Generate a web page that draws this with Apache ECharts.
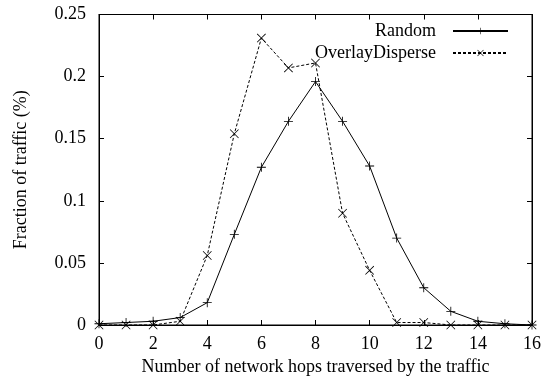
<!DOCTYPE html>
<html>
<head>
<meta charset="utf-8">
<script src="https://cdn.jsdelivr.net/npm/echarts@6/dist/echarts.min.js"></script>
<style>
  html, body { margin: 0; padding: 0; background: #fff; }
  #chart { width: 544px; height: 388px; }
</style>
</head>
<body>
<div id="chart"></div>
<script>
// Hop counts on the x axis
const hops = [0, 1, 2, 3, 4, 5, 6, 7, 8, 9, 10, 11, 12, 13, 14, 15, 16];
// Fraction of traffic per hop count
const randomValues = [0.001, 0.002, 0.003, 0.006, 0.018, 0.073, 0.127, 0.164, 0.196, 0.164, 0.128, 0.070, 0.030, 0.011, 0.003, 0.001, 0.000];
const overlayDisperseValues = [0.000, 0.000, 0.000, 0.003, 0.056, 0.154, 0.231, 0.207, 0.211, 0.090, 0.044, 0.002, 0.002, 0.000, 0.000, 0.000, 0.000];
const seriesNames = ['Random', 'OverlayDisperse'];
const xTicks = [0, 2, 4, 6, 8, 10, 12, 14, 16];
const yTicks = [0, 0.05, 0.1, 0.15, 0.2, 0.25];

const FONT = '"Liberation Serif", "DejaVu Serif", serif';
const FS = 18;
// Thin "+" and "x" point markers
const PLUS = 'path://M4.55,0 L5.45,0 L5.45,4.55 L10,4.55 L10,5.45 L5.45,5.45 L5.45,10 L4.55,10 L4.55,5.45 L0,5.45 L0,4.55 L4.55,4.55 Z';
const CROSS = 'path://M0,0.6 L0.6,0 L5,4.4 L9.4,0 L10,0.6 L5.6,5 L10,9.4 L9.4,10 L5,5.6 L0.6,10 L0,9.4 L4.4,5 Z';

const pairs = vals => hops.map((h, i) => [h, vals[i]]);

const chart = echarts.init(document.getElementById('chart'), null, { renderer: 'canvas' });

const tickCommon = { show: true, inside: true, length: 5, lineStyle: { color: '#000', width: 1 } };

chart.setOption({
  animation: false,
  backgroundColor: '#fff',
  grid: {
    left: 99, right: 10.5, top: 14.5, bottom: 63,
    show: true, borderColor: '#000', borderWidth: 1, backgroundColor: 'transparent'
  },
  legend: {
    orient: 'vertical',
    align: 'right',
    right: 35,
    top: 22,
    padding: 0,
    itemWidth: 55,
    itemHeight: 8,
    itemGap: 4,
    data: seriesNames,
    textStyle: { fontFamily: FONT, fontSize: FS, lineHeight: 18, color: '#000', padding: [0, 12, 0, 0] }
  },
  xAxis: [
    {
      type: 'value', min: 0, max: 16, interval: 2,
      name: 'Number of network hops traversed by the traffic',
      nameLocation: 'middle', nameGap: 33,
      nameTextStyle: { fontFamily: FONT, fontSize: FS, color: '#000' },
      axisLine: { show: true, onZero: false, lineStyle: { color: '#000', width: 1 } },
      axisTick: tickCommon,
      axisLabel: { fontFamily: FONT, fontSize: FS, color: '#000', margin: 10,
        formatter: v => xTicks.includes(v) ? String(v) : '' },
      splitLine: { show: false }
    },
    {
      type: 'value', position: 'top', min: 0, max: 16, interval: 2,
      axisLine: { show: true, onZero: false, lineStyle: { color: '#000' } },
      axisTick: tickCommon, axisLabel: { show: false }, splitLine: { show: false }
    }
  ],
  yAxis: [
    {
      type: 'value', min: 0, max: 0.25, interval: 0.05,
      name: 'Fraction of traffic (%)',
      nameLocation: 'middle', nameGap: 69,
      nameTextStyle: { fontFamily: FONT, fontSize: FS, color: '#000' },
      axisLine: { show: true, onZero: false, lineStyle: { color: '#000', width: 1 } },
      axisTick: tickCommon,
      axisLabel: { fontFamily: FONT, fontSize: FS, color: '#000', margin: 13,
        formatter: v => {
          const t = yTicks.find(y => Math.abs(y - v) < 1e-9);
          return t === undefined ? '' : String(t);
        } },
      splitLine: { show: false }
    },
    {
      type: 'value', position: 'right', min: 0, max: 0.25, interval: 0.05,
      axisLine: { show: true, onZero: false, lineStyle: { color: '#000' } },
      axisTick: tickCommon, axisLabel: { show: false }, splitLine: { show: false }
    }
  ],
  series: [
    {
      name: seriesNames[0], type: 'line', data: pairs(randomValues),
      symbol: PLUS, symbolSize: 9, showAllSymbol: true,
      lineStyle: { color: '#000', width: 1 },
      itemStyle: { color: '#000', borderWidth: 0 },
      emphasis: { disabled: true }, z: 3
    },
    {
      name: seriesNames[1], type: 'line', data: pairs(overlayDisperseValues),
      symbol: CROSS, symbolSize: 9, showAllSymbol: true,
      lineStyle: { color: '#000', width: 1, type: [3, 2] },
      itemStyle: { color: '#000', borderWidth: 0 },
      emphasis: { disabled: true }, z: 2
    }
  ]
});
</script>
</body>
</html>
